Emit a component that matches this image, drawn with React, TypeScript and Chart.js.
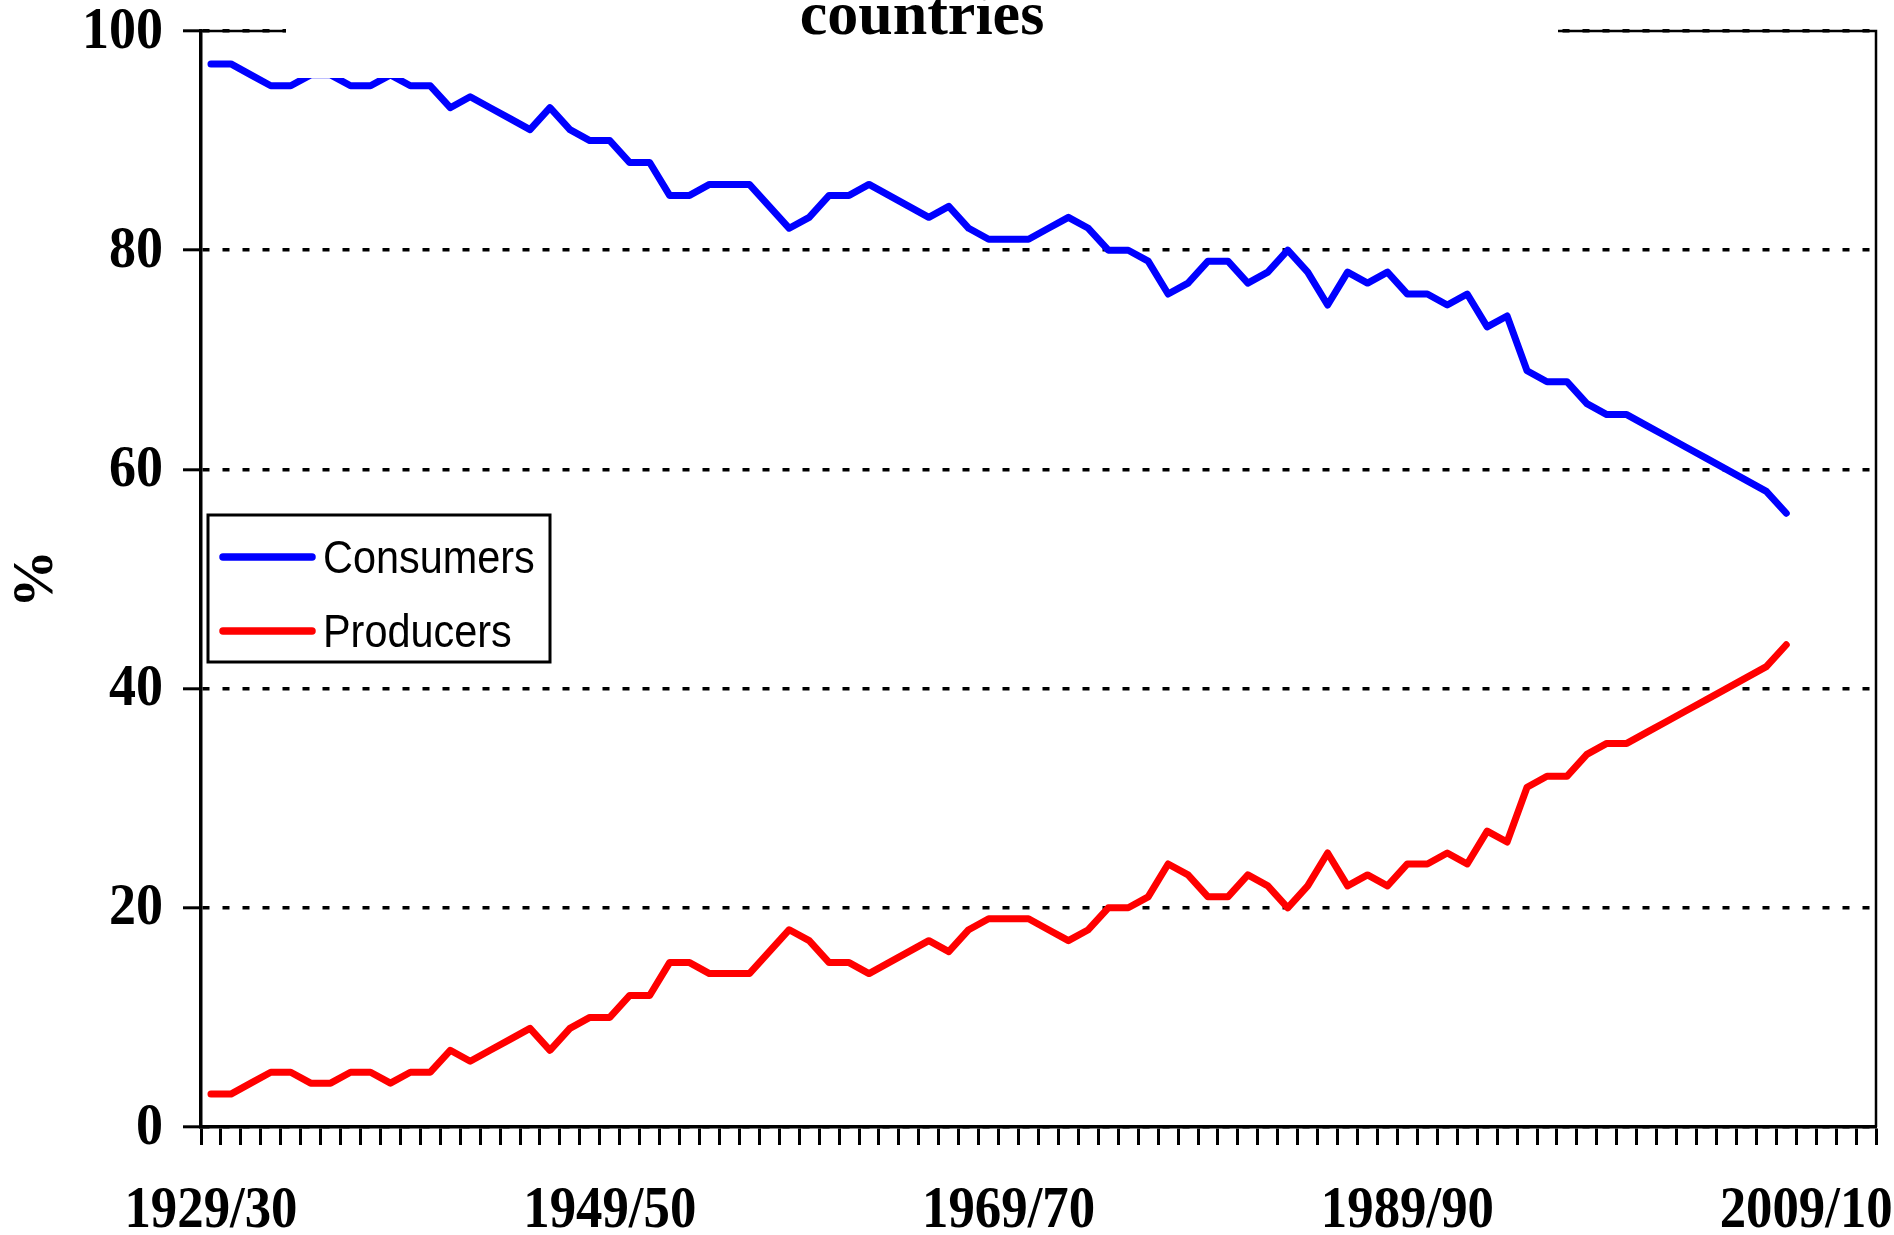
import React, { useEffect, useRef } from 'react';
import { Chart, registerables } from 'chart.js';

Chart.register(...registerables);

const categories: string[] = [
  '1929/30', '1930/31', '1931/32', '1932/33', '1933/34', '1934/35', '1935/36', '1936/37', '1937/38', '1938/39',
  '1939/40', '1940/41', '1941/42', '1942/43', '1943/44', '1944/45', '1945/46', '1946/47', '1947/48', '1948/49',
  '1949/50', '1950/51', '1951/52', '1952/53', '1953/54', '1954/55', '1955/56', '1956/57', '1957/58', '1958/59',
  '1959/60', '1960/61', '1961/62', '1962/63', '1963/64', '1964/65', '1965/66', '1966/67', '1967/68', '1968/69',
  '1969/70', '1970/71', '1971/72', '1972/73', '1973/74', '1974/75', '1975/76', '1976/77', '1977/78', '1978/79',
  '1979/80', '1980/81', '1981/82', '1982/83', '1983/84', '1984/85', '1985/86', '1986/87', '1987/88', '1988/89',
  '1989/90', '1990/91', '1991/92', '1992/93', '1993/94', '1994/95', '1995/96', '1996/97', '1997/98', '1998/99',
  '1999/00', '2000/01', '2001/02', '2002/03', '2003/04', '2004/05', '2005/06', '2006/07', '2007/08', '2008/09',
  '2009/10', '2010/11', '2011/12', '2012/13',
];

const xTickLabels: string[] = ['1929/30', '1949/50', '1969/70', '1989/90', '2009/10'];
const yTickValues: number[] = [0, 20, 40, 60, 80, 100];

const consumers: number[] = [
  97, 97, 96, 95, 95, 96, 96, 95, 95, 96,
  95, 95, 93, 94, 93, 92, 91, 93, 91, 90,
  90, 88, 88, 85, 85, 86, 86, 86, 84, 82,
  83, 85, 85, 86, 85, 84, 83, 84, 82, 81,
  81, 81, 82, 83, 82, 80, 80, 79, 76, 77,
  79, 79, 77, 78, 80, 78, 75, 78, 77, 78,
  76, 76, 75, 76, 73, 74, 69, 68, 68, 66,
  65, 65, 64, 63, 62, 61, 60, 59, 58, 56,
];

const producers: number[] = [
  3, 3, 4, 5, 5, 4, 4, 5, 5, 4,
  5, 5, 7, 6, 7, 8, 9, 7, 9, 10,
  10, 12, 12, 15, 15, 14, 14, 14, 16, 18,
  17, 15, 15, 14, 15, 16, 17, 16, 18, 19,
  19, 19, 18, 17, 18, 20, 20, 21, 24, 23,
  21, 21, 23, 22, 20, 22, 25, 22, 23, 22,
  24, 24, 25, 24, 27, 26, 31, 32, 32, 34,
  35, 35, 36, 37, 38, 39, 40, 41, 42, 44,
];

const seriesNames: string[] = ['Consumers', 'Producers'];
const seriesColors: string[] = ['#0000FF', '#FF0000'];
const titleText = 'countries';
const yAxisTitle = '%';

const SERIF = '"Liberation Serif", "Times New Roman", serif';
const SANS = '"Liberation Sans", Arial, sans-serif';

function drawNarrowText(ctx: any, text: string, x: number, y: number, sx: number) {
  ctx.save();
  ctx.translate(x, y);
  ctx.scale(sx, 1);
  ctx.fillText(text, 0, 0);
  ctx.restore();
}

const decorPlugin = {
  id: 'decor',
  beforeDatasetsDraw(chart: any) {
    const { ctx, chartArea: a } = chart;
    ctx.save();
    ctx.strokeStyle = '#000';
    ctx.lineWidth = 2.5;
    ctx.beginPath();
    ctx.moveTo(a.left, a.top);
    ctx.lineTo(a.right, a.top);
    ctx.lineTo(a.right, a.bottom);
    ctx.stroke();
    ctx.restore();
  },
  afterDatasetsDraw(chart: any) {
    const { ctx } = chart;
    ctx.save();
    // title box (white background, top cut off by the canvas edge)
    ctx.fillStyle = '#fff';
    ctx.fillRect(286, 0, 1272, 78);
    ctx.fillStyle = '#000';
    ctx.font = `bold 62px ${SERIF}`;
    ctx.textAlign = 'center';
    ctx.textBaseline = 'alphabetic';
    ctx.fillText(titleText, 922, 34);

    // legend
    const bx = 208, by = 515, bw = 342, bh = 147;
    ctx.fillStyle = '#fff';
    ctx.fillRect(bx, by, bw, bh);
    ctx.strokeStyle = '#000';
    ctx.lineWidth = 3;
    ctx.strokeRect(bx, by, bw, bh);
    const rows = [557, 631];
    seriesNames.forEach((name, i) => {
      const y = rows[i];
      ctx.strokeStyle = seriesColors[i];
      ctx.lineWidth = 7.5;
      ctx.lineCap = 'round';
      ctx.beginPath();
      ctx.moveTo(223, y);
      ctx.lineTo(312, y);
      ctx.stroke();
      ctx.fillStyle = '#000';
      ctx.font = `46px ${SANS}`;
      ctx.textAlign = 'left';
      ctx.textBaseline = 'alphabetic';
      drawNarrowText(ctx, name, 323, y + 16, 0.9);
    });
    ctx.restore();
  },
  afterDraw(chart: any) {
    const { ctx } = chart;
    const xs = chart.scales.x;
    const ys = chart.scales.y;
    ctx.save();
    ctx.fillStyle = '#000';
    ctx.font = `bold 60px ${SERIF}`;
    // y tick labels
    ctx.textAlign = 'right';
    ctx.textBaseline = 'middle';
    ys.ticks.forEach((t: any, i: number) => {
      if (!yTickValues.includes(t.value)) return;
      drawNarrowText(ctx, String(t.value), ys.right - 38, ys.getPixelForTick(i) + 1, 0.9);
    });
    // x tick labels
    ctx.textAlign = 'center';
    ctx.textBaseline = 'alphabetic';
    xs.ticks.forEach((t: any, i: number) => {
      const label = categories[t.value];
      if (!xTickLabels.includes(label)) return;
      drawNarrowText(ctx, label, xs.getPixelForTick(i), xs.top + 100, 0.88);
    });
    ctx.restore();
  },
};

export default function App() {
  const canvasRef = useRef<HTMLCanvasElement | null>(null);

  useEffect(() => {
    document.body.style.margin = '0';
    const canvas = canvasRef.current;
    if (!canvas) return;
    const chart = new Chart(canvas, {
      type: 'line',
      data: {
        labels: categories,
        datasets: [
          {
            label: seriesNames[0],
            data: consumers,
            borderColor: seriesColors[0],
            backgroundColor: seriesColors[0],
            borderWidth: 7,
            pointRadius: 0,
            tension: 0,
            fill: false,
            borderJoinStyle: 'round',
            borderCapStyle: 'round',
          },
          {
            label: seriesNames[1],
            data: producers,
            borderColor: seriesColors[1],
            backgroundColor: seriesColors[1],
            borderWidth: 7,
            pointRadius: 0,
            tension: 0,
            fill: false,
            borderJoinStyle: 'round',
            borderCapStyle: 'round',
          },
        ],
      },
      options: {
        responsive: false,
        animation: false,
        devicePixelRatio: 1,
        layout: { padding: { top: 31, right: 18, left: 0, bottom: 0 } },
        plugins: {
          legend: { display: false },
          title: { display: false },
          tooltip: { enabled: false },
        },
        scales: {
          x: {
            type: 'category',
            offset: true,
            afterFit: (scale: any) => {
              scale.height = 108;
              scale.paddingLeft = 0;
              scale.paddingRight = 0;
            },
            grid: {
              display: true,
              drawOnChartArea: false,
              drawTicks: true,
              offset: true,
              tickLength: 18,
              tickColor: '#000',
              tickWidth: 3,
              color: '#000',
            },
            border: { display: true, color: '#000', width: 3.5 },
            ticks: {
              display: false,
              autoSkip: false,
              maxRotation: 0,
              minRotation: 0,
            },
          },
          y: {
            min: 0,
            max: 100,
            afterFit: (scale: any) => {
              scale.width = 201;
              scale.paddingTop = 0;
              scale.paddingBottom = 0;
            },
            ticks: {
              display: false,
              stepSize: 20,
            },
            grid: {
              display: true,
              drawOnChartArea: true,
              drawTicks: true,
              tickLength: 18,
              tickColor: '#000',
              tickWidth: 3,
              tickBorderDash: [],
              color: '#000',
              lineWidth: 3.6,
            },
            border: { display: true, color: '#000', width: 3.5, dash: [7, 13] },
            title: {
              display: true,
              text: yAxisTitle,
              color: '#000',
              font: { family: SERIF, weight: 'bold', size: 58 },
              padding: { top: 2, bottom: 4 },
            },
          },
        },
      },
      plugins: [decorPlugin],
    } as any);
    return () => {
      chart.destroy();
    };
  }, []);

  return (
    <div style={{ width: 1894, height: 1235 }}>
      <canvas ref={canvasRef} width={1894} height={1235} style={{ display: 'block' }} />
    </div>
  );
}
